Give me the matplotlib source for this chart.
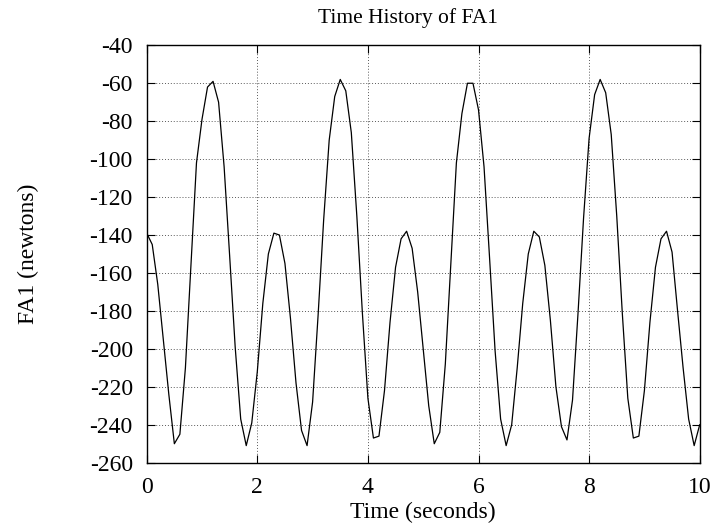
import numpy as np
import matplotlib
matplotlib.use("Agg")
import matplotlib.pyplot as plt

plt.rcParams['font.family'] = ['Liberation Serif', 'DejaVu Serif']

# sample times (s), 0.1 s step
time = np.linspace(0, 10, 101)

# FA1 force (newtons)
fa1 = [
    -139, -145, -166, -195, -224, -250, -245, -210, -156, -102,
    -79, -62, -59, -70, -104, -151, -199, -237, -251, -239,
    -212, -176, -150, -139, -140, -155, -184, -218, -243, -251,
    -228, -182, -132, -90, -67, -58, -64, -86, -130, -181,
    -226, -247, -246, -222, -186, -157, -142, -138, -147, -170,
    -200, -230, -250, -244, -208, -155, -102, -76, -60, -60,
    -74, -104, -152, -201, -237, -251, -240, -210, -176, -150,
    -138, -141, -156, -185, -220, -241, -248, -227, -181, -131,
    -89, -66, -58, -65, -87, -130, -181, -226, -247, -246,
    -222, -186, -157, -142, -138, -149, -180, -210, -237, -251,
    -240,
]

xticks = [0, 2, 4, 6, 8, 10]
yticks = list(range(-260, -39, 20))

W, H = 717, 527
fig = plt.figure(figsize=(W / 100, H / 100), dpi=100)
ax = fig.add_axes([146.7 / W, 1 - 462.7 / H, (699.7 - 146.7) / W, (462.7 - 45.3) / H])

ax.plot(time, fa1, color='black', lw=0.9)

ax.set_xlim(0, 10)
ax.set_ylim(-260, -40)
ax.set_xticks(xticks)
ax.set_yticks(yticks)
ax.set_xticklabels([str(v) for v in xticks])
ax.set_yticklabels([str(v) for v in yticks])

ax.grid(True, color='0.35', linestyle=(0, (1, 2)), lw=0.7)
ax.tick_params(direction='in', length=6, width=0.8, top=True, right=True,
               labelsize=17, pad=10)
for s in ax.spines.values():
    s.set_linewidth(1.0)

ax.set_xlabel('Time (seconds)', fontsize=17, labelpad=3)
fig.text(28 / W, 1 - 254 / H, 'FA1 (newtons)', rotation=90, fontsize=17,
         ha='center', va='center')
fig.text(407.5 / W, 1 - 18 / H, 'Time History of FA1', fontsize=15.5,
         ha='center', va='center')

fig.savefig('out.png', dpi=100)
